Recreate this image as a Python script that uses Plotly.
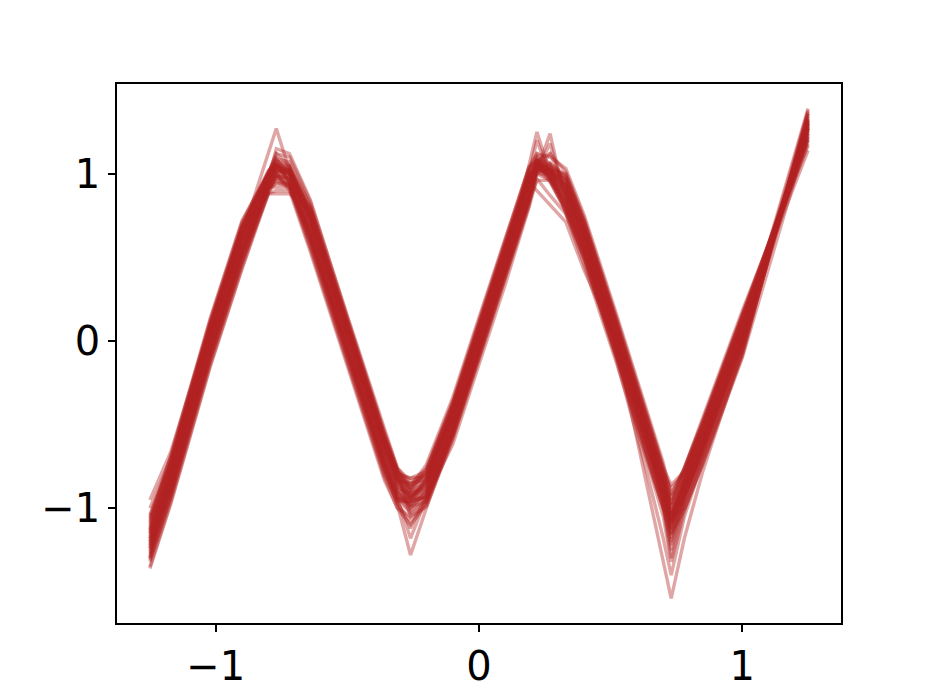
import plotly.graph_objects as go

# x positions (knots) shared by all curves
x_knots = [-1.25, -1.17, -1.02, -0.9, -0.8, -0.77, -0.72, -0.64, -0.5, -0.36, -0.31, -0.26, -0.2, -0.1,
           0.0, 0.1, 0.19, 0.22, 0.27, 0.33, 0.4, 0.52, 0.64, 0.7, 0.73, 0.78, 0.85, 1.0, 1.25]

curve_01 = [-1.30, -0.77, 0.05, 0.63, 1.12, 1.27, 1.02, 0.63, -0.05, -0.73, -0.93, -0.98, -0.88, -0.48, 0.00, 0.48, 1.00, 1.20, 0.98, 0.83, 0.55, -0.03, -0.63, -0.93, -1.10, -0.88, -0.60, 0.04, 1.39]
curve_02 = [-1.00, -0.70, 0.12, 0.70, 1.00, 1.02, 1.02, 0.78, 0.10, -0.58, -0.80, -0.82, -0.78, -0.38, 0.10, 0.58, 1.00, 1.02, 1.02, 1.00, 0.72, 0.14, -0.46, -0.76, -0.86, -0.78, -0.50, 0.14, 1.25]
curve_03 = [-1.22, -0.87, -0.05, 0.53, 0.92, 0.92, 0.92, 0.80, 0.12, -0.56, -0.78, -1.05, -0.96, -0.56, -0.08, 0.40, 0.84, 1.08, 0.95, 0.78, 0.50, -0.08, -0.68, -0.98, -1.20, -0.93, -0.65, -0.01, 1.30]
curve_04 = [-1.05, -0.72, 0.10, 0.68, 1.01, 1.10, 0.94, 0.60, -0.08, -0.76, -0.98, -1.28, -1.00, -0.55, -0.05, 0.48, 1.05, 1.25, 1.00, 0.88, 0.60, 0.02, -0.58, -0.88, -1.05, -0.83, -0.55, 0.09, 1.28]
curve_05 = [-1.18, -0.82, 0.00, 0.58, 0.96, 1.05, 1.02, 0.76, 0.08, -0.60, -0.82, -0.90, -0.83, -0.43, 0.05, 0.53, 0.97, 1.05, 1.02, 0.93, 0.65, 0.00, -0.88, -1.30, -1.54, -1.18, -0.78, -0.06, 1.32]
curve_06 = [-1.35, -0.96, -0.14, 0.44, 0.89, 0.95, 0.92, 0.56, -0.12, -0.80, -0.96, -0.96, -0.93, -0.53, -0.05, 0.43, 0.95, 0.90, 0.81, 0.71, 0.42, 0.00, -0.58, -0.84, -1.00, -0.80, -0.52, 0.12, 1.20]
curve_07 = [-1.15, -0.74, 0.08, 0.66, 1.00, 1.12, 1.10, 0.83, 0.15, -0.53, -0.76, -0.86, -0.76, -0.36, 0.12, 0.60, 1.04, 1.12, 1.10, 1.03, 0.75, 0.17, -0.43, -0.73, -0.92, -0.76, -0.46, 0.18, 1.18]
curve_08 = [-1.25, -0.90, -0.08, 0.50, 0.92, 1.00, 0.90, 0.53, -0.15, -0.83, -1.00, -1.10, -0.98, -0.58, -0.10, 0.38, 0.82, 1.00, 1.06, 0.76, 0.48, -0.10, -0.80, -1.18, -1.40, -1.05, -0.72, -0.08, 1.36]
curve_09 = [-1.08, -0.68, 0.14, 0.72, 1.00, 1.04, 1.00, 0.73, 0.05, -0.63, -0.83, -0.93, -0.85, -0.45, 0.03, 0.51, 0.95, 1.10, 1.02, 0.91, 0.63, 0.05, -0.55, -0.85, -1.02, -0.86, -0.58, 0.06, 1.26]
curve_10 = [-1.28, -0.92, -0.10, 0.48, 0.88, 0.90, 0.90, 0.68, 0.00, -0.68, -0.88, -1.00, -0.91, -0.51, -0.03, 0.45, 0.89, 1.02, 1.18, 0.86, 0.58, 0.00, -0.60, -0.90, -1.15, -0.92, -0.64, 0.00, 1.31]
curve_11 = [-1.20, -0.80, 0.02, 0.60, 0.97, 1.15, 1.12, 0.84, 0.14, -0.54, -0.76, -0.84, -0.80, -0.40, 0.08, 0.56, 1.00, 1.04, 1.04, 0.98, 0.70, 0.12, -0.55, -1.00, -1.30, -0.98, -0.66, -0.02, 1.29]
curve_12 = [-1.12, -0.76, 0.06, 0.64, 0.99, 1.06, 0.95, 0.62, -0.06, -0.74, -0.94, -1.18, -0.94, -0.54, -0.06, 0.42, 0.86, 1.08, 0.97, 0.82, 0.54, -0.04, -0.64, -0.94, -1.08, -0.84, -0.56, 0.08, 1.27]
curve_13 = [-1.32, -0.94, -0.12, 0.46, 0.90, 0.98, 0.93, 0.58, -0.10, -0.78, -0.94, -0.94, -0.94, -0.62, -0.14, 0.34, 0.80, 0.97, 0.87, 0.76, 0.45, -0.12, -0.72, -1.00, -1.06, -1.00, -0.74, -0.10, 1.24]
curve_14 = [-0.95, -0.66, 0.10, 0.68, 1.00, 1.08, 1.01, 0.74, 0.06, -0.62, -0.82, -0.88, -0.78, -0.38, 0.10, 0.58, 1.02, 1.12, 1.06, 0.96, 0.68, 0.10, -0.50, -0.80, -0.98, -0.76, -0.48, 0.16, 1.22]
curve_15 = [-1.24, -0.88, -0.06, 0.52, 0.93, 1.04, 1.03, 0.78, 0.10, -0.58, -0.78, -0.91, -0.88, -0.48, 0.00, 0.48, 0.92, 1.02, 1.01, 0.90, 0.62, 0.04, -0.56, -0.86, -1.12, -0.90, -0.62, 0.02, 1.33]
curve_16 = [-1.16, -0.79, 0.03, 0.61, 0.97, 1.03, 0.98, 0.66, -0.02, -0.70, -0.90, -0.97, -0.82, -0.42, 0.06, 0.54, 0.98, 1.06, 0.98, 0.84, 0.56, -0.02, -0.62, -0.92, -1.05, -0.82, -0.54, 0.10, 1.30]
curve_17 = [-1.26, -0.86, -0.04, 0.54, 0.92, 0.94, 0.94, 0.64, -0.04, -0.72, -0.92, -0.99, -0.96, -0.56, -0.08, 0.40, 0.84, 0.96, 0.96, 0.80, 0.52, -0.06, -0.70, -1.00, -1.22, -0.96, -0.68, -0.04, 1.27]
curve_18 = [-1.06, -0.71, 0.11, 0.69, 1.01, 1.09, 1.07, 0.80, 0.12, -0.56, -0.78, -0.87, -0.74, -0.34, 0.14, 0.62, 1.04, 1.08, 1.12, 1.01, 0.73, 0.15, -0.45, -0.75, -0.94, -0.76, -0.48, 0.16, 1.21]
curve_19 = [-1.30, -0.91, -0.09, 0.49, 0.92, 0.97, 0.94, 0.60, -0.08, -0.76, -0.96, -1.12, -0.92, -0.52, -0.04, 0.44, 0.88, 1.04, 0.99, 0.78, 0.50, -0.08, -0.72, -1.05, -1.32, -1.02, -0.71, -0.07, 1.35]
curve_20 = [-1.14, -0.78, 0.04, 0.62, 0.98, 1.01, 1.00, 0.71, 0.03, -0.65, -0.85, -0.92, -0.86, -0.46, 0.02, 0.50, 0.94, 1.07, 1.03, 0.94, 0.66, 0.08, -0.52, -0.82, -1.03, -0.85, -0.57, 0.07, 1.26]
curve_21 = [-1.20, -0.84, -0.02, 0.56, 0.95, 1.02, 1.00, 0.70, 0.02, -0.66, -0.86, -0.95, -0.90, -0.50, -0.02, 0.46, 0.90, 1.03, 1.00, 0.88, 0.60, 0.02, -0.58, -0.88, -1.08, -0.90, -0.62, 0.02, 1.37]
curve_22 = [-1.22, -0.85, -0.03, 0.55, 0.94, 0.99, 0.97, 0.65, -0.03, -0.71, -0.91, -0.94, -0.84, -0.44, 0.04, 0.52, 0.96, 1.06, 0.99, 0.85, 0.57, -0.01, -0.61, -0.91, -1.06, -0.87, -0.59, 0.05, 1.28]
curve_23 = [-1.18, -0.81, 0.01, 0.59, 0.96, 1.04, 1.02, 0.75, 0.07, -0.61, -0.81, -0.93, -0.89, -0.49, -0.01, 0.47, 0.91, 1.05, 1.02, 0.92, 0.64, 0.06, -0.54, -0.84, -1.04, -0.91, -0.63, 0.01, 1.30]
curve_24 = [-1.10, -0.73, 0.09, 0.67, 0.88, 0.88, 0.88, 0.77, 0.09, -0.59, -0.79, -0.82, -0.81, -0.41, 0.07, 0.55, 0.99, 1.00, 1.00, 0.97, 0.69, 0.11, -0.49, -0.79, -0.88, -0.79, -0.51, 0.13, 1.14]
curve_25 = [-1.27, -0.89, -0.07, 0.51, 0.93, 1.06, 0.95, 0.61, -0.07, -0.75, -0.95, -0.96, -0.94, -0.54, -0.06, 0.42, 0.86, 1.02, 1.24, 0.82, 0.54, -0.04, -0.64, -0.94, -1.09, -0.93, -0.65, -0.01, 1.32]
curve_26 = [-1.13, -0.76, 0.06, 0.64, 0.99, 1.03, 1.00, 0.72, 0.04, -0.64, -0.84, -0.85, -0.83, -0.43, 0.05, 0.53, 0.97, 1.04, 1.02, 0.93, 0.65, 0.07, -0.53, -0.83, -0.97, -0.81, -0.53, 0.11, 1.24]
curve_27 = [-1.36, -0.97, -0.15, 0.43, 0.88, 1.00, 0.92, 0.55, -0.13, -0.81, -1.00, -1.05, -0.99, -0.59, -0.11, 0.37, 0.81, 1.02, 0.96, 0.77, 0.49, -0.09, -0.69, -0.99, -1.15, -1.01, -0.73, -0.09, 1.38]
curve_28 = [-1.04, -0.69, 0.13, 0.71, 1.02, 1.05, 1.04, 0.81, 0.13, -0.55, -0.77, -0.89, -0.77, -0.37, 0.11, 0.59, 1.03, 1.08, 1.06, 0.99, 0.71, 0.13, -0.47, -0.77, -0.92, -0.77, -0.49, 0.15, 1.17]
curve_29 = [-1.19, -0.80, 0.02, 0.60, 0.97, 1.06, 1.02, 0.73, 0.05, -0.63, -0.83, -0.96, -0.85, -0.45, 0.03, 0.51, 0.95, 1.08, 1.01, 0.90, 0.62, 0.04, -0.56, -0.86, -1.10, -0.88, -0.60, 0.04, 1.31]
curve_30 = [-1.23, -0.87, -0.05, 0.53, 0.93, 1.00, 0.96, 0.63, -0.05, -0.73, -0.93, -1.02, -0.93, -0.53, -0.05, 0.43, 0.87, 1.03, 0.98, 0.83, 0.55, -0.03, -0.63, -0.93, -1.16, -0.94, -0.66, -0.02, 1.33]
curve_31 = [-1.11, -0.75, 0.07, 0.65, 0.99, 1.08, 1.04, 0.76, 0.08, -0.60, -0.80, -0.90, -0.80, -0.40, 0.08, 0.56, 1.00, 1.10, 1.04, 0.95, 0.67, 0.09, -0.51, -0.81, -1.00, -0.83, -0.55, 0.09, 1.23]
curve_32 = [-1.29, -0.90, -0.08, 0.50, 0.92, 0.96, 0.93, 0.59, -0.09, -0.77, -0.97, -1.08, -0.97, -0.57, -0.09, 0.39, 0.83, 1.00, 0.96, 0.79, 0.51, -0.07, -0.67, -0.97, -1.25, -0.97, -0.69, -0.05, 1.36]
curve_33 = [-1.15, -0.78, 0.04, 0.62, 1.00, 1.12, 1.05, 0.69, 0.01, -0.67, -0.87, -0.93, -0.87, -0.47, 0.01, 0.49, 0.93, 1.05, 1.00, 0.89, 0.61, 0.03, -0.57, -0.87, -1.04, -0.86, -0.58, 0.06, 1.29]
curve_34 = [-1.21, -0.83, -0.01, 0.57, 0.95, 0.98, 0.98, 0.72, 0.04, -0.64, -0.84, -0.98, -0.91, -0.51, -0.03, 0.45, 0.89, 1.02, 1.12, 0.91, 0.63, 0.05, -0.55, -0.85, -1.12, -0.91, -0.63, 0.01, 1.30]
curve_35 = [-1.09, -0.72, 0.10, 0.68, 1.00, 1.02, 1.01, 0.75, 0.07, -0.61, -0.81, -0.86, -0.82, -0.42, 0.06, 0.54, 0.98, 1.03, 1.03, 0.96, 0.68, 0.10, -0.50, -0.80, -0.95, -0.80, -0.52, 0.12, 1.22]
curve_36 = [-1.31, -0.93, -0.11, 0.47, 0.90, 0.99, 0.95, 0.62, -0.06, -0.74, -0.94, -1.03, -0.95, -0.55, -0.07, 0.41, 0.85, 1.06, 0.97, 0.81, 0.53, -0.05, -0.65, -0.95, -1.18, -0.95, -0.67, -0.03, 1.34]
curve_37 = [-1.17, -0.82, 0.00, 0.58, 0.96, 1.05, 1.00, 0.67, -0.01, -0.69, -0.89, -0.91, -0.84, -0.44, 0.04, 0.52, 0.96, 1.09, 1.00, 0.87, 0.59, 0.01, -0.59, -0.89, -1.07, -0.87, -0.59, 0.05, 1.28]
curve_38 = [-1.07, -0.73, 0.09, 0.67, 1.00, 1.07, 1.05, 0.78, 0.10, -0.58, -0.78, -0.88, -0.79, -0.39, 0.09, 0.57, 1.01, 1.06, 1.05, 0.98, 0.70, 0.12, -0.48, -0.78, -0.98, -0.78, -0.50, 0.14, 1.20]
curve_39 = [-1.24, -0.85, -0.03, 0.55, 0.94, 1.01, 0.98, 0.66, -0.02, -0.70, -0.90, -1.00, -0.90, -0.50, -0.02, 0.46, 0.90, 1.04, 0.99, 0.86, 0.58, 0.00, -0.60, -0.90, -1.13, -0.92, -0.64, 0.00, 1.32]
curve_40 = [-1.13, -0.77, 0.05, 0.63, 0.98, 1.04, 1.01, 0.74, 0.06, -0.62, -0.82, -0.94, -0.83, -0.43, 0.05, 0.53, 0.97, 1.07, 1.02, 0.93, 0.65, 0.07, -0.53, -0.83, -1.06, -0.84, -0.56, 0.08, 1.27]

curves = [curve_01, curve_02, curve_03, curve_04, curve_05, curve_06, curve_07, curve_08,
          curve_09, curve_10, curve_11, curve_12, curve_13, curve_14, curve_15, curve_16,
          curve_17, curve_18, curve_19, curve_20, curve_21, curve_22, curve_23, curve_24,
          curve_25, curve_26, curve_27, curve_28, curve_29, curve_30, curve_31, curve_32,
          curve_33, curve_34, curve_35, curve_36, curve_37, curve_38, curve_39, curve_40]

x_tick_vals = [-1, 0, 1]
x_tick_text = ["\u22121", "0", "1"]
y_tick_vals = [-1, 0, 1]
y_tick_text = ["\u22121", "0", "1"]

fig = go.Figure()
for c in curves:
    fig.add_trace(go.Scatter(
        x=x_knots, y=c, mode="lines",
        line=dict(color="rgb(178,34,34)", width=3.4),
        opacity=0.4, showlegend=False, hoverinfo="skip",
    ))

# matplotlib-like 5% margins
xmin, xmax = min(x_knots), max(x_knots)
ymin = min(min(c) for c in curves)
ymax = max(max(c) for c in curves)
xs, ys = xmax - xmin, ymax - ymin

axis_common = dict(
    showgrid=False, zeroline=False, showline=True, mirror=True,
    linecolor="black", linewidth=1.6, ticks="outside", ticklen=7,
    tickwidth=1.6, tickcolor="black", automargin=False,
    tickfont=dict(family="DejaVu Sans", size=40, color="black"),
)

fig.update_layout(
    width=934, height=700,
    paper_bgcolor="white", plot_bgcolor="white",
    margin=dict(l=117, r=93, t=84, b=77, pad=0),
    xaxis=dict(range=[xmin - 0.05 * xs, xmax + 0.05 * xs],
               tickvals=x_tick_vals, ticktext=x_tick_text, **axis_common),
    yaxis=dict(range=[ymin - 0.05 * ys, ymax + 0.05 * ys],
               tickvals=y_tick_vals, ticktext=y_tick_text, **axis_common),
)

fig.write_html(
    "out.html",
    config={"displayModeBar": False},
    post_script="document.body.style.margin='0';document.body.style.overflow='hidden';",
)
